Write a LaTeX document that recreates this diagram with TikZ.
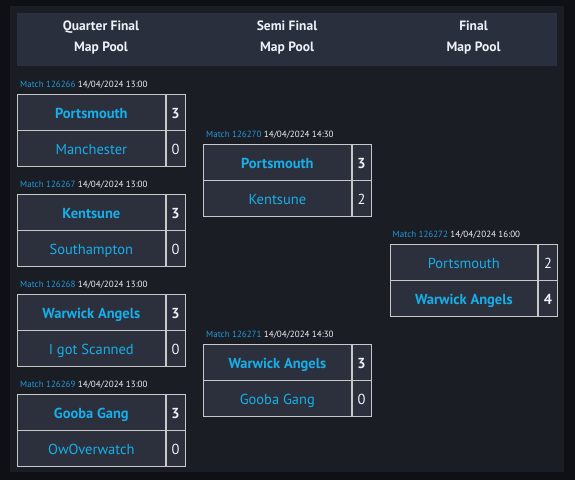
\documentclass[tikz,border=0pt]{standalone}
\usepackage{fontspec}
\setmainfont{PT Sans}
\definecolor{outerbg}{HTML}{0F1016}
\definecolor{panel}{HTML}{1B1D24}
\definecolor{header}{HTML}{2A2F3D}
\definecolor{cell}{HTML}{2B303C}
\definecolor{team}{HTML}{18AEEA}
\definecolor{lbl}{HTML}{2298DA}
\definecolor{txt}{HTML}{EEF0F8}
\definecolor{bord}{HTML}{C8C8C8}
\tikzset{
  cellbase/.style={draw=bord, line width=1.2pt, fill=cell, minimum height=36pt, anchor=north west, inner sep=0pt, text height=11pt, text depth=0pt, font=\fontsize{14.5}{16}\selectfont},
  namecell/.style={cellbase, minimum width=147.5pt, text=team},
  scorecell/.style={cellbase, minimum width=19pt, text=txt},
  matchlbl/.style={anchor=west, inner sep=0pt, text height=6pt, text depth=2pt, font=\fontsize{9}{10}\selectfont},
  headtxt/.style={inner sep=0pt, text=txt, text height=10pt, text depth=0pt, font=\fontsize{13.5}{15}\selectfont\bfseries}
}
\newcommand\matchbox[9]{%
  \node[matchlbl] (#1l) at (#2+3,#3-9) {\textcolor{lbl}{Match #4} \textcolor{txt}{14/04/2024 #5}};
  \node[namecell] (#1a) at (#2,#3) {#6};
  \node[scorecell] (#1as) at (#2+148.5,#3) {#7};
  \node[namecell] (#1b) at (#2,#3+36) {#8};
  \node[scorecell] (#1bs) at (#2+148.5,#3+36) {#9};
}
\begin{document}
\begin{tikzpicture}[x=1pt,y=-1pt]
\fill[outerbg] (0,0) rectangle (575,480);
\useasboundingbox (0,0) rectangle (575,480);
\fill[panel] (10,6) rectangle (564,472);
\fill[header] (17,13) rectangle (557,66);
\node[headtxt] (h1a) at (101,25) {Quarter Final};
\node[headtxt] (h1b) at (101,46) {Map Pool};
\node[headtxt] (h2a) at (287,25) {Semi Final};
\node[headtxt] (h2b) at (287,46) {Map Pool};
\node[headtxt] (h3a) at (473.5,25) {Final};
\node[headtxt] (h3b) at (473.5,46) {Map Pool};
\matchbox{qa}{17}{94}{126266}{13:00}{\bfseries Portsmouth}{\bfseries 3}{Manchester}{0}
\matchbox{qb}{17}{194}{126267}{13:00}{\bfseries Kentsune}{\bfseries 3}{Southampton}{0}
\matchbox{qc}{17}{294}{126268}{13:00}{\bfseries Warwick Angels}{\bfseries 3}{I got Scanned}{0}
\matchbox{qd}{17}{394}{126269}{13:00}{\bfseries Gooba Gang}{\bfseries 3}{OwOverwatch}{0}
\matchbox{sa}{203}{144}{126270}{14:30}{\bfseries Portsmouth}{\bfseries 3}{Kentsune}{2}
\matchbox{sb}{203}{344}{126271}{14:30}{\bfseries Warwick Angels}{\bfseries 3}{Gooba Gang}{0}
\matchbox{fa}{389.5}{244}{126272}{16:00}{Portsmouth}{2}{\bfseries Warwick Angels}{\bfseries 4}
\end{tikzpicture}
\end{document}
